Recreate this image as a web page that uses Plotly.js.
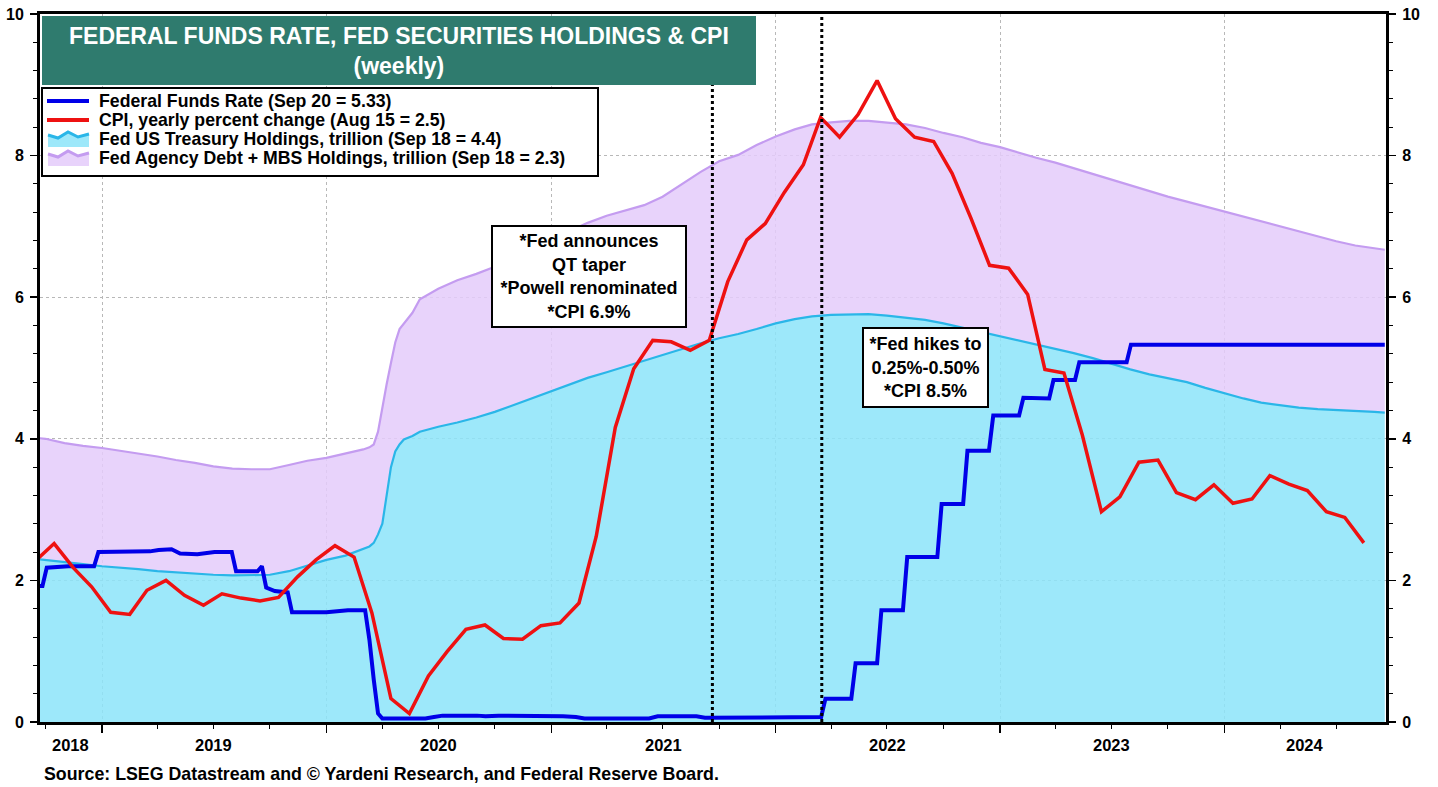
<!DOCTYPE html>
<html>
<head>
<meta charset="utf-8">
<script src="https://cdn.plot.ly/plotly-3.0.1.min.js"></script>
<style>
html,body{margin:0;padding:0;background:#ffffff;}
#chart{width:1438px;height:787px;}
</style>
</head>
<body>
<div id="chart"></div>
<script>
// ---------------- DATA ----------------
const holdingDates = ['2018-09-19','2018-10-01','2018-11-01','2018-12-01','2019-01-01','2019-02-01','2019-03-01','2019-04-01','2019-05-01','2019-06-01','2019-07-01','2019-08-01','2019-09-01','2019-10-01','2019-11-01','2019-12-01','2020-01-01','2020-02-01','2020-03-01','2020-03-11','2020-03-18','2020-03-25','2020-04-01','2020-04-08','2020-04-15','2020-04-22','2020-04-29','2020-05-06','2020-05-20','2020-06-01','2020-07-01','2020-08-01','2020-09-01','2020-10-01','2020-11-01','2020-12-01','2021-01-01','2021-02-01','2021-03-01','2021-04-01','2021-05-01','2021-06-01','2021-07-01','2021-08-01','2021-09-01','2021-10-01','2021-11-01','2021-12-01','2022-01-01','2022-02-01','2022-03-01','2022-04-01','2022-05-01','2022-06-01','2022-07-01','2022-08-01','2022-09-01','2022-10-01','2022-11-01','2022-12-01','2023-01-01','2023-02-01','2023-03-01','2023-04-01','2023-05-01','2023-06-01','2023-07-01','2023-08-01','2023-09-01','2023-10-01','2023-11-01','2023-12-01','2024-01-01','2024-02-01','2024-03-01','2024-04-01','2024-05-01','2024-06-01','2024-07-01','2024-08-01','2024-09-01','2024-09-18'];

// Fed US Treasury holdings, trillion
const treasuryHoldings = [2.30,2.29,2.26,2.23,2.20,2.18,2.16,2.13,2.11,2.09,2.08,2.07,2.07,2.08,2.13,2.21,2.29,2.35,2.44,2.48,2.53,2.65,2.80,3.18,3.60,3.82,3.92,3.99,4.04,4.10,4.17,4.23,4.30,4.38,4.48,4.58,4.67,4.77,4.86,4.94,5.02,5.10,5.19,5.27,5.35,5.42,5.48,5.55,5.63,5.69,5.73,5.75,5.76,5.76,5.74,5.71,5.68,5.63,5.57,5.51,5.45,5.39,5.33,5.27,5.21,5.14,5.06,4.98,4.91,4.86,4.80,4.72,4.64,4.57,4.51,4.47,4.44,4.42,4.41,4.39,4.38,4.37];

// Fed agency debt + MBS holdings, trillion (stacked on top of Treasuries)
const mbsHoldings = [1.71,1.71,1.68,1.67,1.67,1.65,1.63,1.62,1.59,1.57,1.53,1.51,1.50,1.49,1.50,1.48,1.44,1.44,1.41,1.40,1.39,1.45,1.65,1.59,1.47,1.54,1.63,1.64,1.74,1.87,1.95,2.01,2.03,2.05,2.07,2.10,2.13,2.17,2.19,2.21,2.20,2.20,2.23,2.33,2.42,2.50,2.53,2.60,2.64,2.68,2.71,2.72,2.73,2.73,2.73,2.73,2.71,2.69,2.69,2.67,2.67,2.65,2.64,2.63,2.61,2.60,2.60,2.60,2.59,2.56,2.55,2.56,2.57,2.57,2.56,2.53,2.49,2.43,2.38,2.34,2.31,2.30];

// Federal funds rate, weekly (%)
const ffrDates = ['2018-09-19','2018-09-26','2018-10-03','2018-11-07','2018-12-19','2018-12-26','2019-03-20','2019-04-03','2019-04-24','2019-05-08','2019-06-05','2019-07-03','2019-07-31','2019-08-07','2019-09-11','2019-09-18','2019-09-25','2019-10-09','2019-10-30','2019-11-06','2020-01-01','2020-02-05','2020-03-04','2020-03-11','2020-03-18','2020-03-25','2020-04-01','2020-06-10','2020-06-24','2020-07-08','2020-09-02','2020-09-16','2020-10-07','2021-01-06','2021-01-20','2021-02-10','2021-02-24','2021-06-09','2021-06-23','2021-08-25','2021-09-08','2022-03-16','2022-03-23','2022-05-04','2022-05-11','2022-06-15','2022-06-22','2022-07-27','2022-08-03','2022-09-21','2022-09-28','2022-11-02','2022-11-09','2022-12-14','2022-12-21','2023-02-01','2023-02-08','2023-03-22','2023-03-29','2023-05-03','2023-05-10','2023-07-26','2023-08-02','2024-09-18'];
const ffrValues = [1.92,1.92,2.18,2.20,2.20,2.40,2.41,2.43,2.44,2.38,2.37,2.40,2.40,2.13,2.13,2.20,1.90,1.85,1.83,1.55,1.55,1.58,1.58,1.16,0.60,0.12,0.05,0.05,0.07,0.09,0.09,0.08,0.09,0.09,0.08,0.07,0.05,0.05,0.08,0.08,0.06,0.07,0.33,0.33,0.83,0.83,1.58,1.58,2.33,2.33,3.08,3.08,3.83,3.83,4.33,4.33,4.58,4.57,4.83,4.83,5.08,5.08,5.33,5.33];

// CPI, yearly percent change (monthly)
const cpiDates = ['2018-09-15','2018-10-15','2018-11-15','2018-12-15','2019-01-15','2019-02-15','2019-03-15','2019-04-15','2019-05-15','2019-06-15','2019-07-15','2019-08-15','2019-09-15','2019-10-15','2019-11-15','2019-12-15','2020-01-15','2020-02-15','2020-03-15','2020-04-15','2020-05-15','2020-06-15','2020-07-15','2020-08-15','2020-09-15','2020-10-15','2020-11-15','2020-12-15','2021-01-15','2021-02-15','2021-03-15','2021-04-15','2021-05-15','2021-06-15','2021-07-15','2021-08-15','2021-09-15','2021-10-15','2021-11-15','2021-12-15','2022-01-15','2022-02-15','2022-03-15','2022-04-15','2022-05-15','2022-06-15','2022-07-15','2022-08-15','2022-09-15','2022-10-15','2022-11-15','2022-12-15','2023-01-15','2023-02-15','2023-03-15','2023-04-15','2023-05-15','2023-06-15','2023-07-15','2023-08-15','2023-09-15','2023-10-15','2023-11-15','2023-12-15','2024-01-15','2024-02-15','2024-03-15','2024-04-15','2024-05-15','2024-06-15','2024-07-15','2024-08-15'];
const cpiValues = [2.28,2.52,2.18,1.91,1.55,1.52,1.86,2.00,1.79,1.65,1.81,1.75,1.71,1.76,2.05,2.29,2.49,2.33,1.54,0.33,0.12,0.65,0.99,1.31,1.37,1.18,1.17,1.36,1.40,1.68,2.62,4.16,4.99,5.39,5.37,5.25,5.39,6.22,6.81,7.04,7.48,7.87,8.54,8.26,8.58,9.06,8.52,8.26,8.20,7.75,7.11,6.45,6.41,6.04,4.98,4.93,4.05,2.97,3.18,3.67,3.70,3.24,3.14,3.35,3.09,3.15,3.48,3.36,3.27,2.97,2.89,2.53];

const seriesNames = [
  'Federal Funds Rate (Sep 20 = 5.33)',
  'CPI, yearly percent change (Aug 15 = 2.5)',
  'Fed US Treasury Holdings, trillion (Sep 18 = 4.4)',
  'Fed Agency Debt + MBS Holdings, trillion (Sep 18 = 2.3)'
];
const yearLabels = ['2018','2019','2020','2021','2022','2023','2024'];
const yTicks = [0,2,4,6,8,10];
const xRange = ['2018-09-22','2024-09-20'];
const eventDates = ['2021-09-20','2022-03-17'];
const chartTitle = 'FEDERAL FUNDS RATE, FED SECURITIES HOLDINGS & CPI<br>(weekly)';
const eventNotes = ['*Fed announces<br>QT taper<br>*Powell renominated<br>*CPI 6.9%',
                    '*Fed hikes to<br>0.25%-0.50%<br>*CPI 8.5%'];
const sourceNote = 'Source: LSEG Datastream and \u00A9 Yardeni Research, and Federal Reserve Board.';

// ---------------- STYLE / LAYOUT ----------------
const FONT = '"Liberation Sans", Arial, Helvetica, sans-serif';
const W = 1438, H = 787, ML = 40, MR = 52, MT = 14, MB = 65;
const PW = W - ML - MR, PH = H - MT - MB;
const px = x => (x - ML) / PW;        // pixel -> paper x
const py = y => (H - MB - y) / PH;    // pixel -> paper y

const C = {
  blue: '#0000E8', red: '#EE1111',
  cyanLine: '#2AB6E8', cyanFill: 'rgba(141,228,249,0.86)',
  purpLine: '#C49CF0', purpFill: 'rgba(228,204,250,0.86)',
  teal: '#2F7B6E', grid: '#b8b8b8'
};

const traces = [
  {x: holdingDates, y: treasuryHoldings, name: seriesNames[2], type: 'scatter', mode: 'lines',
   stackgroup: 'holdings', line: {color: C.cyanLine, width: 2.2}, fillcolor: C.cyanFill,
   showlegend: false, hoverinfo: 'skip'},
  {x: holdingDates, y: mbsHoldings, name: seriesNames[3], type: 'scatter', mode: 'lines',
   stackgroup: 'holdings', line: {color: C.purpLine, width: 2.2}, fillcolor: C.purpFill,
   showlegend: false, hoverinfo: 'skip'},
  {x: ffrDates, y: ffrValues, name: seriesNames[0], type: 'scatter', mode: 'lines',
   line: {color: C.blue, width: 4}, showlegend: false, hoverinfo: 'skip'},
  {x: cpiDates, y: cpiValues, name: seriesNames[1], type: 'scatter', mode: 'lines', yaxis: 'y2',
   line: {color: C.red, width: 3.5}, showlegend: false, hoverinfo: 'skip'}
];

const tickFont = {family: FONT, size: 16, color: '#000', weight: 'bold'};
const yearStarts = yearLabels.slice(1).map(y => y + '-01-01');

const yBase = {
  range: [0, 10], autorange: false, tickmode: 'array', tickvals: yTicks,
  ticks: 'outside', ticklen: 7, tickwidth: 1.5, tickcolor: '#000',
  showline: true, linewidth: 3, linecolor: '#000', zeroline: false,
  tickfont: tickFont, ticklabelstandoff: 3, layer: 'above traces', fixedrange: true,
  minor: {tickmode: 'linear', tick0: 0, dtick: 0.4, ticks: 'outside', ticklen: 4, tickwidth: 1, tickcolor: '#000', showgrid: false},
  automargin: false
};

// shapes: event lines, title box, legend box and icons
const shapes = [];
eventDates.forEach(d => shapes.push({type: 'line', xref: 'x', yref: 'paper', x0: d, x1: d, y0: 0, y1: 1,
  line: {color: '#000', width: 3, dash: 'dot'}, layer: 'above'}));
shapes.push({type: 'rect', xref: 'paper', yref: 'paper', x0: px(42), x1: px(756), y0: py(85), y1: py(16),
  fillcolor: C.teal, line: {width: 0}, layer: 'above'});
shapes.push({type: 'rect', xref: 'paper', yref: 'paper', x0: px(42), x1: px(598), y0: py(176), y1: py(88),
  fillcolor: '#fff', line: {color: '#000', width: 2}, layer: 'above'});

const rowY = [101, 120, 139, 158];
const iconLine = [C.blue, C.red];
iconLine.forEach((col, i) => shapes.push({type: 'line', xref: 'paper', yref: 'paper',
  x0: px(47), x1: px(89), y0: py(rowY[i]), y1: py(rowY[i]), line: {color: col, width: 4}, layer: 'above'}));
function zig(cy) {
  const pts = [[48, cy - 4], [58, cy - 1], [68, cy - 7], [78, cy - 2], [89, cy - 5]];
  return pts.map(p => [px(p[0]), py(p[1])]);
}
[[C.cyanLine, C.cyanFill], [C.purpLine, C.purpFill]].forEach((cc, k) => {
  const cy = rowY[2 + k];
  const pts = zig(cy);
  const bottom = py(cy + 8);
  let fillPath = 'M' + pts.map(p => p[0] + ',' + p[1]).join(' L') +
    ' L' + pts[pts.length - 1][0] + ',' + bottom + ' L' + pts[0][0] + ',' + bottom + ' Z';
  shapes.push({type: 'path', xref: 'paper', yref: 'paper', path: fillPath, fillcolor: cc[1], line: {width: 0}, layer: 'above'});
  let linePath = 'M' + pts.map(p => p[0] + ',' + p[1]).join(' L');
  shapes.push({type: 'path', xref: 'paper', yref: 'paper', path: linePath, fillcolor: 'rgba(0,0,0,0)', line: {color: cc[0], width: 3}, layer: 'above'});
});

// annotations
const annotations = [];
annotations.push({xref: 'paper', yref: 'paper', x: px(399), y: py(51), xanchor: 'center', yanchor: 'middle',
  text: chartTitle, showarrow: false, align: 'center',
  font: {family: FONT, size: 23, color: '#ffffff', weight: 'bold'}});
seriesNames.forEach((n, i) => annotations.push({xref: 'paper', yref: 'paper', x: px(97), y: py(rowY[i]),
  xanchor: 'left', yanchor: 'middle', text: n, showarrow: false,
  font: {family: FONT, size: 17.7, color: '#000', weight: 'bold'}}));

// year labels centred in the visible part of each year
const r0 = new Date(xRange[0]).getTime(), r1 = new Date(xRange[1]).getTime();
yearLabels.forEach(y => {
  const a = Math.max(new Date(y + '-01-01').getTime(), r0);
  const b = Math.min(new Date((+y + 1) + '-01-01').getTime(), r1);
  const mid = new Date((a + b) / 2).toISOString().slice(0, 10);
  annotations.push({xref: 'x', yref: 'paper', x: mid, y: py(745), xanchor: 'center', yanchor: 'middle',
    text: y, showarrow: false, font: {family: FONT, size: 16.5, color: '#000', weight: 'bold'}});
});

annotations.push({xref: 'paper', yref: 'paper', x: px(42), y: py(774), xanchor: 'left', yanchor: 'middle',
  text: sourceNote, showarrow: false, font: {family: FONT, size: 17.8, color: '#000', weight: 'bold'}});

const boxFont = {family: FONT, size: 18, color: '#000', weight: 'bold'};
annotations.push({xref: 'paper', yref: 'paper', x: px(589), y: py(276.5), xanchor: 'center', yanchor: 'middle',
  text: eventNotes[0], showarrow: false, align: 'center', font: boxFont,
  bgcolor: '#fff', bordercolor: '#000', borderwidth: 2, borderpad: 3, width: 186, height: 93});
annotations.push({xref: 'paper', yref: 'paper', x: px(925.5), y: py(367.5), xanchor: 'center', yanchor: 'middle',
  text: eventNotes[1], showarrow: false, align: 'center', font: boxFont,
  bgcolor: '#fff', bordercolor: '#000', borderwidth: 2, borderpad: 3, width: 117, height: 71});

const layout = {
  width: W, height: H, autosize: false,
  margin: {l: ML, r: MR, t: MT, b: MB, pad: 0},
  paper_bgcolor: '#fff', plot_bgcolor: '#fff',
  font: {family: FONT, color: '#000'},
  showlegend: false,
  xaxis: {
    type: 'date', range: xRange, autorange: false,
    tickmode: 'array', tickvals: yearStarts, showticklabels: false,
    ticks: 'outside', ticklen: 8, tickwidth: 1.5, tickcolor: '#000',
    showline: true, linewidth: 3, linecolor: '#000', mirror: true,
    showgrid: true, gridcolor: C.grid, griddash: 'dot', gridwidth: 1,
    zeroline: false, layer: 'above traces', fixedrange: true, automargin: false,
    minor: {tickmode: 'linear', tick0: '2019-01-01', dtick: 'M3', ticks: 'outside', ticklen: 4, tickwidth: 1, tickcolor: '#000', showgrid: false}
  },
  yaxis: Object.assign({}, yBase, {side: 'left', showgrid: true, gridcolor: C.grid, griddash: 'dot', gridwidth: 1}),
  yaxis2: Object.assign({}, yBase, {side: 'right', overlaying: 'y', showgrid: false}),
  shapes: shapes,
  annotations: annotations,
  hovermode: false
};

Plotly.newPlot('chart', traces, layout, {displayModeBar: false, staticPlot: true});
</script>
</body>
</html>
